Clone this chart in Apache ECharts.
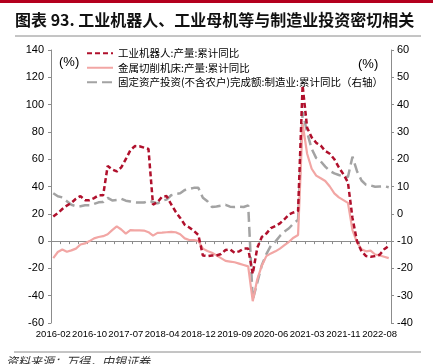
<!DOCTYPE html>
<html>
<head>
<meta charset="utf-8">
<script src="https://cdn.jsdelivr.net/npm/echarts@6/dist/echarts.min.js"></script>
<style>
  html, body { margin: 0; padding: 0; background: #fff; }
  #chart { width: 433px; height: 364px; }
</style>
</head>
<body>
<div id="chart"></div>
<script>
// monthly cumulative data, no January (Jan-Feb reported together)
const months = [
  '2016-02', '2016-03', '2016-04', '2016-05', '2016-06', '2016-07', '2016-08', '2016-09', '2016-10', '2016-11', '2016-12',
  '2017-02', '2017-03', '2017-04', '2017-05', '2017-06', '2017-07', '2017-08', '2017-09', '2017-10', '2017-11', '2017-12',
  '2018-02', '2018-03', '2018-04', '2018-05', '2018-06', '2018-07', '2018-08', '2018-09', '2018-10', '2018-11', '2018-12',
  '2019-02', '2019-03', '2019-04', '2019-05', '2019-06', '2019-07', '2019-08', '2019-09', '2019-10', '2019-11', '2019-12',
  '2020-02', '2020-03', '2020-04', '2020-05', '2020-06', '2020-07', '2020-08', '2020-09', '2020-10', '2020-11', '2020-12',
  '2021-02', '2021-03', '2021-04', '2021-05', '2021-06', '2021-07', '2021-08', '2021-09', '2021-10', '2021-11', '2021-12',
  '2022-02', '2022-03', '2022-04', '2022-05', '2022-06', '2022-07', '2022-08', '2022-09', '2022-10'
];

// 工业机器人:产量:累计同比 (left axis)
const robotOutput = [
  18, 20.5, 23.5, 26, 28, 31, 33, 30, 30, 31.5, 33.5,
  33.5, 55, 52.5, 51, 54, 60, 66.5, 69.6, 69.5, 68.5, 67.5,
  26.7, 28.5, 32.5, 33, 27, 21.5, 17, 12, 10, 7.5, 4.5,
  -10.5, -11, -10.5, -10.5, -9.5, -6.5, -6, -8.5, -7.5, -5.5, -5.5,
  -24, -5, 3, 5.5, 9.5, 11, 13, 16, 19.5, 21, 22,
  114, 83, 76, 72, 70, 66, 64, 60, 54, 49, 43,
  17, 0, -7.5, -11, -11.5, -11, -10, -6, -3.5
];

// 金属切削机床:产量:累计同比 (left axis)
const machineToolOutput = [
  -12.5, -8, -6.2, -7.8, -6.8, -5.5, -2.5, -1.7, 0, 2, 3,
  3.6, 5, 8, 10.8, 8.5, 5.5, 8, 7.8, 7.8, 7.7, 6.5,
  4, 6, 6.2, 6.5, 6.8, 6.5, 5, 2, 0.8, 0.7, 0.2,
  -5.5, -7.2, -8.5, -10.5, -12.5, -14.5, -15, -15.5, -16.5, -17.5, -18.5,
  -44, -28, -18, -11, -9, -7.5, -5.5, -3, -0.5, 2.5, 4.5,
  86, 64, 53, 48, 46, 44, 40, 35, 32, 30, 28,
  8, -1, -6, -7.5, -7, -9.8, -10.5, -11.5, -12.5
];

// 固定资产投资(不含农户)完成额:制造业:累计同比 (right axis)
const mfgInvestment = [
  7.5, 6.4, 6.0, 4.6, 3.3, 2.8, 2.8, 3.1, 3.1, 3.6, 4.2,
  4.3, 5.8, 4.9, 5.1, 5.5, 4.8, 4.5, 4.2, 4.1, 4.1, 4.8,
  4.3, 3.8, 4.8, 5.2, 6.8, 7.3, 7.5, 8.7, 9.1, 9.5, 9.5,
  5.9, 4.6, 2.5, 2.7, 3.0, 3.3, 2.6, 2.5, 2.6, 2.5, 3.1,
  -31.5, -25.2, -18.8, -14.8, -11.7, -10.2, -8.1, -6.5, -5.3, -3.5, -2.2,
  37.3, 29.8, 23.8, 20.4, 19.2, 17.3, 15.7, 14.8, 14.2, 13.7, 13.5,
  20.9, 15.6, 12.2, 10.6, 10.4, 9.9, 10.0, 10.1, 9.7
];

const seriesNames = [
  '工业机器人:产量:累计同比',
  '金属切削机床:产量:累计同比',
  '固定资产投资(不含农户)完成额:制造业:累计同比（右轴）'
];

const sansFont = "'Liberation Sans', Arial, sans-serif";
const cjkFont = "'Noto Sans CJK SC', sans-serif";
const axisGray = '#8c8c8c';

const chart = echarts.init(document.getElementById('chart'));

chart.setOption({
  animation: false,
  backgroundColor: '#fff',
  grid: { left: 51, right: 42, top: 50, bottom: 41 },
  legend: {
    data: seriesNames,
    orient: 'vertical',
    left: 86,
    top: 48,
    padding: 0,
    itemWidth: 26,
    itemHeight: 10,
    itemGap: 4,
    itemStyle: { opacity: 0 },
    textStyle: { fontSize: 10.5, color: '#000', fontFamily: cjkFont }
  },
  xAxis: [
    {
      type: 'category',
      data: months,
      position: 'bottom',
      axisLine: { show: false, onZero: false },
      axisTick: { show: false },
      axisLabel: {
        // label every 8th month: 2016-02 ... 2022-08
        interval: 0,
        formatter: (value, idx) => (idx % 8 === 0 ? value : ''),
        showMinLabel: true,
        showMaxLabel: false,
        hideOverlap: false,
        fontSize: 9.5,
        lineHeight: 10,
        color: '#000',
        margin: 6,
        fontFamily: sansFont
      },
      splitLine: { show: false }
    },
    {
      // zero line with small ticks
      type: 'category',
      data: months,
      position: 'top',
      axisLine: { show: true, onZero: true, onZeroAxisIndex: 0, lineStyle: { color: axisGray, width: 1 } },
      axisTick: { show: true, inside: true, interval: 1, length: 3, lineStyle: { color: axisGray } },
      axisLabel: { show: false },
      splitLine: { show: false }
    }
  ],
  yAxis: [
    {
      type: 'value',
      min: -60,
      max: 140,
      interval: 20,
      position: 'left',
      axisLine: { show: true, lineStyle: { color: axisGray } },
      axisTick: { show: true, length: 3, lineStyle: { color: axisGray } },
      axisLabel: { fontSize: 11, lineHeight: 9, color: '#000', margin: 7, fontFamily: sansFont },
      splitLine: { show: false }
    },
    {
      type: 'value',
      min: -40,
      max: 60,
      interval: 10,
      position: 'right',
      axisLine: { show: true, lineStyle: { color: axisGray } },
      axisTick: { show: true, length: 3, lineStyle: { color: axisGray } },
      axisLabel: { fontSize: 11, lineHeight: 9, color: '#000', margin: 6, fontFamily: sansFont },
      splitLine: { show: false }
    }
  ],
  series: [
    {
      name: seriesNames[2],
      type: 'line',
      xAxisIndex: 0,
      yAxisIndex: 1,
      data: mfgInvestment,
      symbol: 'none',
      z: 2,
      itemStyle: { color: '#a3a3a3' },
      lineStyle: { color: '#a3a3a3', width: 2.5, type: [10, 5] }
    },
    {
      name: seriesNames[1],
      type: 'line',
      xAxisIndex: 0,
      yAxisIndex: 0,
      data: machineToolOutput,
      symbol: 'none',
      z: 3,
      itemStyle: { color: '#f2a6a4' },
      lineStyle: { color: '#f2a6a4', width: 2.2 }
    },
    {
      name: seriesNames[0],
      type: 'line',
      xAxisIndex: 0,
      yAxisIndex: 0,
      data: robotOutput,
      symbol: 'none',
      z: 4,
      itemStyle: { color: '#b0102c' },
      lineStyle: { color: '#b0102c', width: 2.5, type: [5, 3] }
    }
  ],
  graphic: [
    { type: 'rect', shape: { x: 0, y: 0, width: 433, height: 3 }, style: { fill: '#b4001e' } },
    {
      type: 'text',
      style: {
        x: 15, y: 20,
        text: '图表 93. 工业机器人、工业母机等与制造业投资密切相关',
        font: "bold 16px 'Noto Sans CJK SC', sans-serif",
        fill: '#111',
        textVerticalAlign: 'middle'
      }
    },
    { type: 'line', shape: { x1: 15, y1: 36, x2: 421, y2: 36 }, style: { stroke: '#8a8a8a', lineWidth: 1 } },
    {
      type: 'text',
      style: { x: 59, y: 62, text: '(%)', font: "13px 'Liberation Sans', sans-serif", fill: '#000', textVerticalAlign: 'middle' }
    },
    {
      type: 'text',
      style: { x: 358, y: 64, text: '(%)', font: "13px 'Liberation Sans', sans-serif", fill: '#000', textVerticalAlign: 'middle' }
    },
    { type: 'line', shape: { x1: 14, y1: 352, x2: 421, y2: 352 }, style: { stroke: '#8a8a8a', lineWidth: 1 } },
    {
      type: 'text',
      style: {
        x: 6, y: 355,
        text: '资料来源：万得，中银证券',
        font: "italic 12px 'Noto Sans CJK SC', sans-serif",
        fill: '#333'
      }
    }
  ]
});
</script>
</body>
</html>
